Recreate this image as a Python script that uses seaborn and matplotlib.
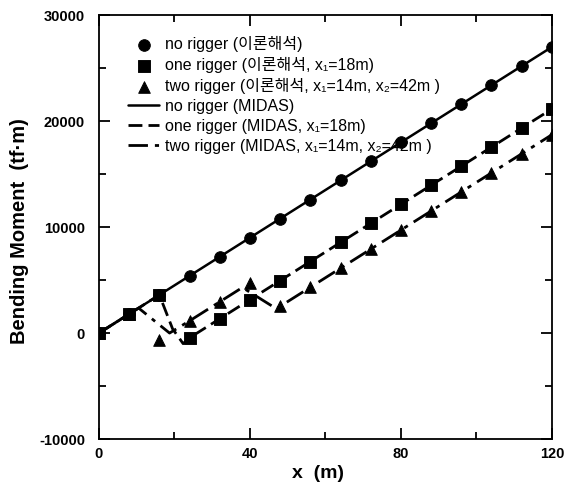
import seaborn as sns
import matplotlib.pyplot as plt
from matplotlib.ticker import MultipleLocator, FormatStrFormatter

# theory points (이론해석), every 8 m
x_pts = [0, 8, 16, 24, 32, 40, 48, 56, 64, 72, 80, 88, 96, 104, 112, 120]
no_rigger = [0, 1800, 3600, 5400, 7200, 9000, 10800, 12600, 14400, 16200,
             18000, 19800, 21600, 23400, 25200, 27000]
one_rigger = [0, 1800, 3600, -450, 1350, 3150, 4950, 6750, 8550, 10350,
              12150, 13950, 15750, 17550, 19350, 21150]
two_rigger = [0, 1800, -650, 1150, 2950, 4750, 2520, 4320, 6120, 7920,
              9720, 11520, 13320, 15120, 16920, 18720]

# MIDAS results
midas_no_x = [0, 120]
midas_no_y = [0, 27000]
midas_one_x = [0, 16, 19.5, 22.3, 24, 120]
midas_one_y = [0, 3600, 400, -1000, -450, 21150]
midas_two_x = [0, 10.5, 18.7, 24, 38, 47, 120]
midas_two_y = [0, 2360, 0, 1150, 4300, 2295, 18720]

sns.set_style('ticks')
plt.rcParams['font.family'] = ['Liberation Sans', 'Noto Sans CJK KR', 'DejaVu Sans']
plt.rcParams['axes.unicode_minus'] = False
for key in ['text.color', 'axes.labelcolor', 'xtick.color', 'ytick.color', 'axes.edgecolor']:
    plt.rcParams[key] = 'black'

fig = plt.figure(figsize=(5.64, 4.86), dpi=100)
ax = fig.add_axes([0.1755, 0.0967, 0.803, 0.872])

sns.scatterplot(x=x_pts, y=no_rigger, ax=ax, marker='o', s=70, color='black',
                edgecolor='black', label='no rigger (이론해석)', zorder=4)
sns.scatterplot(x=x_pts, y=one_rigger, ax=ax, marker='s', s=65, color='black',
                edgecolor='black', label='one rigger (이론해석, x₁=18m)', zorder=5)
sns.scatterplot(x=x_pts, y=two_rigger, ax=ax, marker='^', s=70, color='black',
                edgecolor='black', label='two rigger (이론해석, x₁=14m, x₂=42m )', zorder=4)

sns.lineplot(x=midas_no_x, y=midas_no_y, ax=ax, color='black', lw=1.8,
             label='no rigger (MIDAS)', zorder=3)
sns.lineplot(x=midas_one_x, y=midas_one_y, ax=ax, color='black', lw=2,
             linestyle=(0, (5, 2.2)), label='one rigger (MIDAS, x₁=18m)', zorder=3)
sns.lineplot(x=midas_two_x, y=midas_two_y, ax=ax, color='black', lw=2,
             linestyle=(0, (7, 2.5, 1.5, 2.5)),
             label='two rigger (MIDAS, x₁=14m, x₂=42m )', zorder=3)

ax.set_xlim(0, 120)
ax.set_ylim(-10000, 30000)
ax.xaxis.set_major_locator(MultipleLocator(40))
ax.xaxis.set_minor_locator(MultipleLocator(20))
ax.yaxis.set_major_locator(MultipleLocator(10000))
ax.yaxis.set_minor_locator(MultipleLocator(5000))
ax.yaxis.set_major_formatter(FormatStrFormatter('%d'))
ax.tick_params(which='both', direction='in', top=True, right=True, width=1.3)
ax.tick_params(which='major', length=8, labelsize=10.5)
ax.tick_params(axis='y', which='major', pad=10)
ax.tick_params(axis='x', which='major', pad=6)
ax.tick_params(which='minor', length=5)
for lab in ax.get_xticklabels() + ax.get_yticklabels():
    lab.set_fontweight('bold')
for sp in ax.spines.values():
    sp.set_linewidth(1.3)

ax.set_xlabel('x  (m)', fontsize=14, fontweight='bold')
ax.set_ylabel('Bending Moment  (tf·m)', fontsize=14.5, fontweight='bold')
ax.xaxis.set_label_coords(0.483, -0.062)
ax.yaxis.set_label_coords(-0.155, 0.49)

ax.legend(loc='upper left', frameon=False, fontsize=11.5, handlelength=1.9,
          handletextpad=0.4, labelspacing=0.3, borderpad=0, borderaxespad=0,
          bbox_to_anchor=(0.065, 0.95))

fig.savefig('out.png', dpi=100)
